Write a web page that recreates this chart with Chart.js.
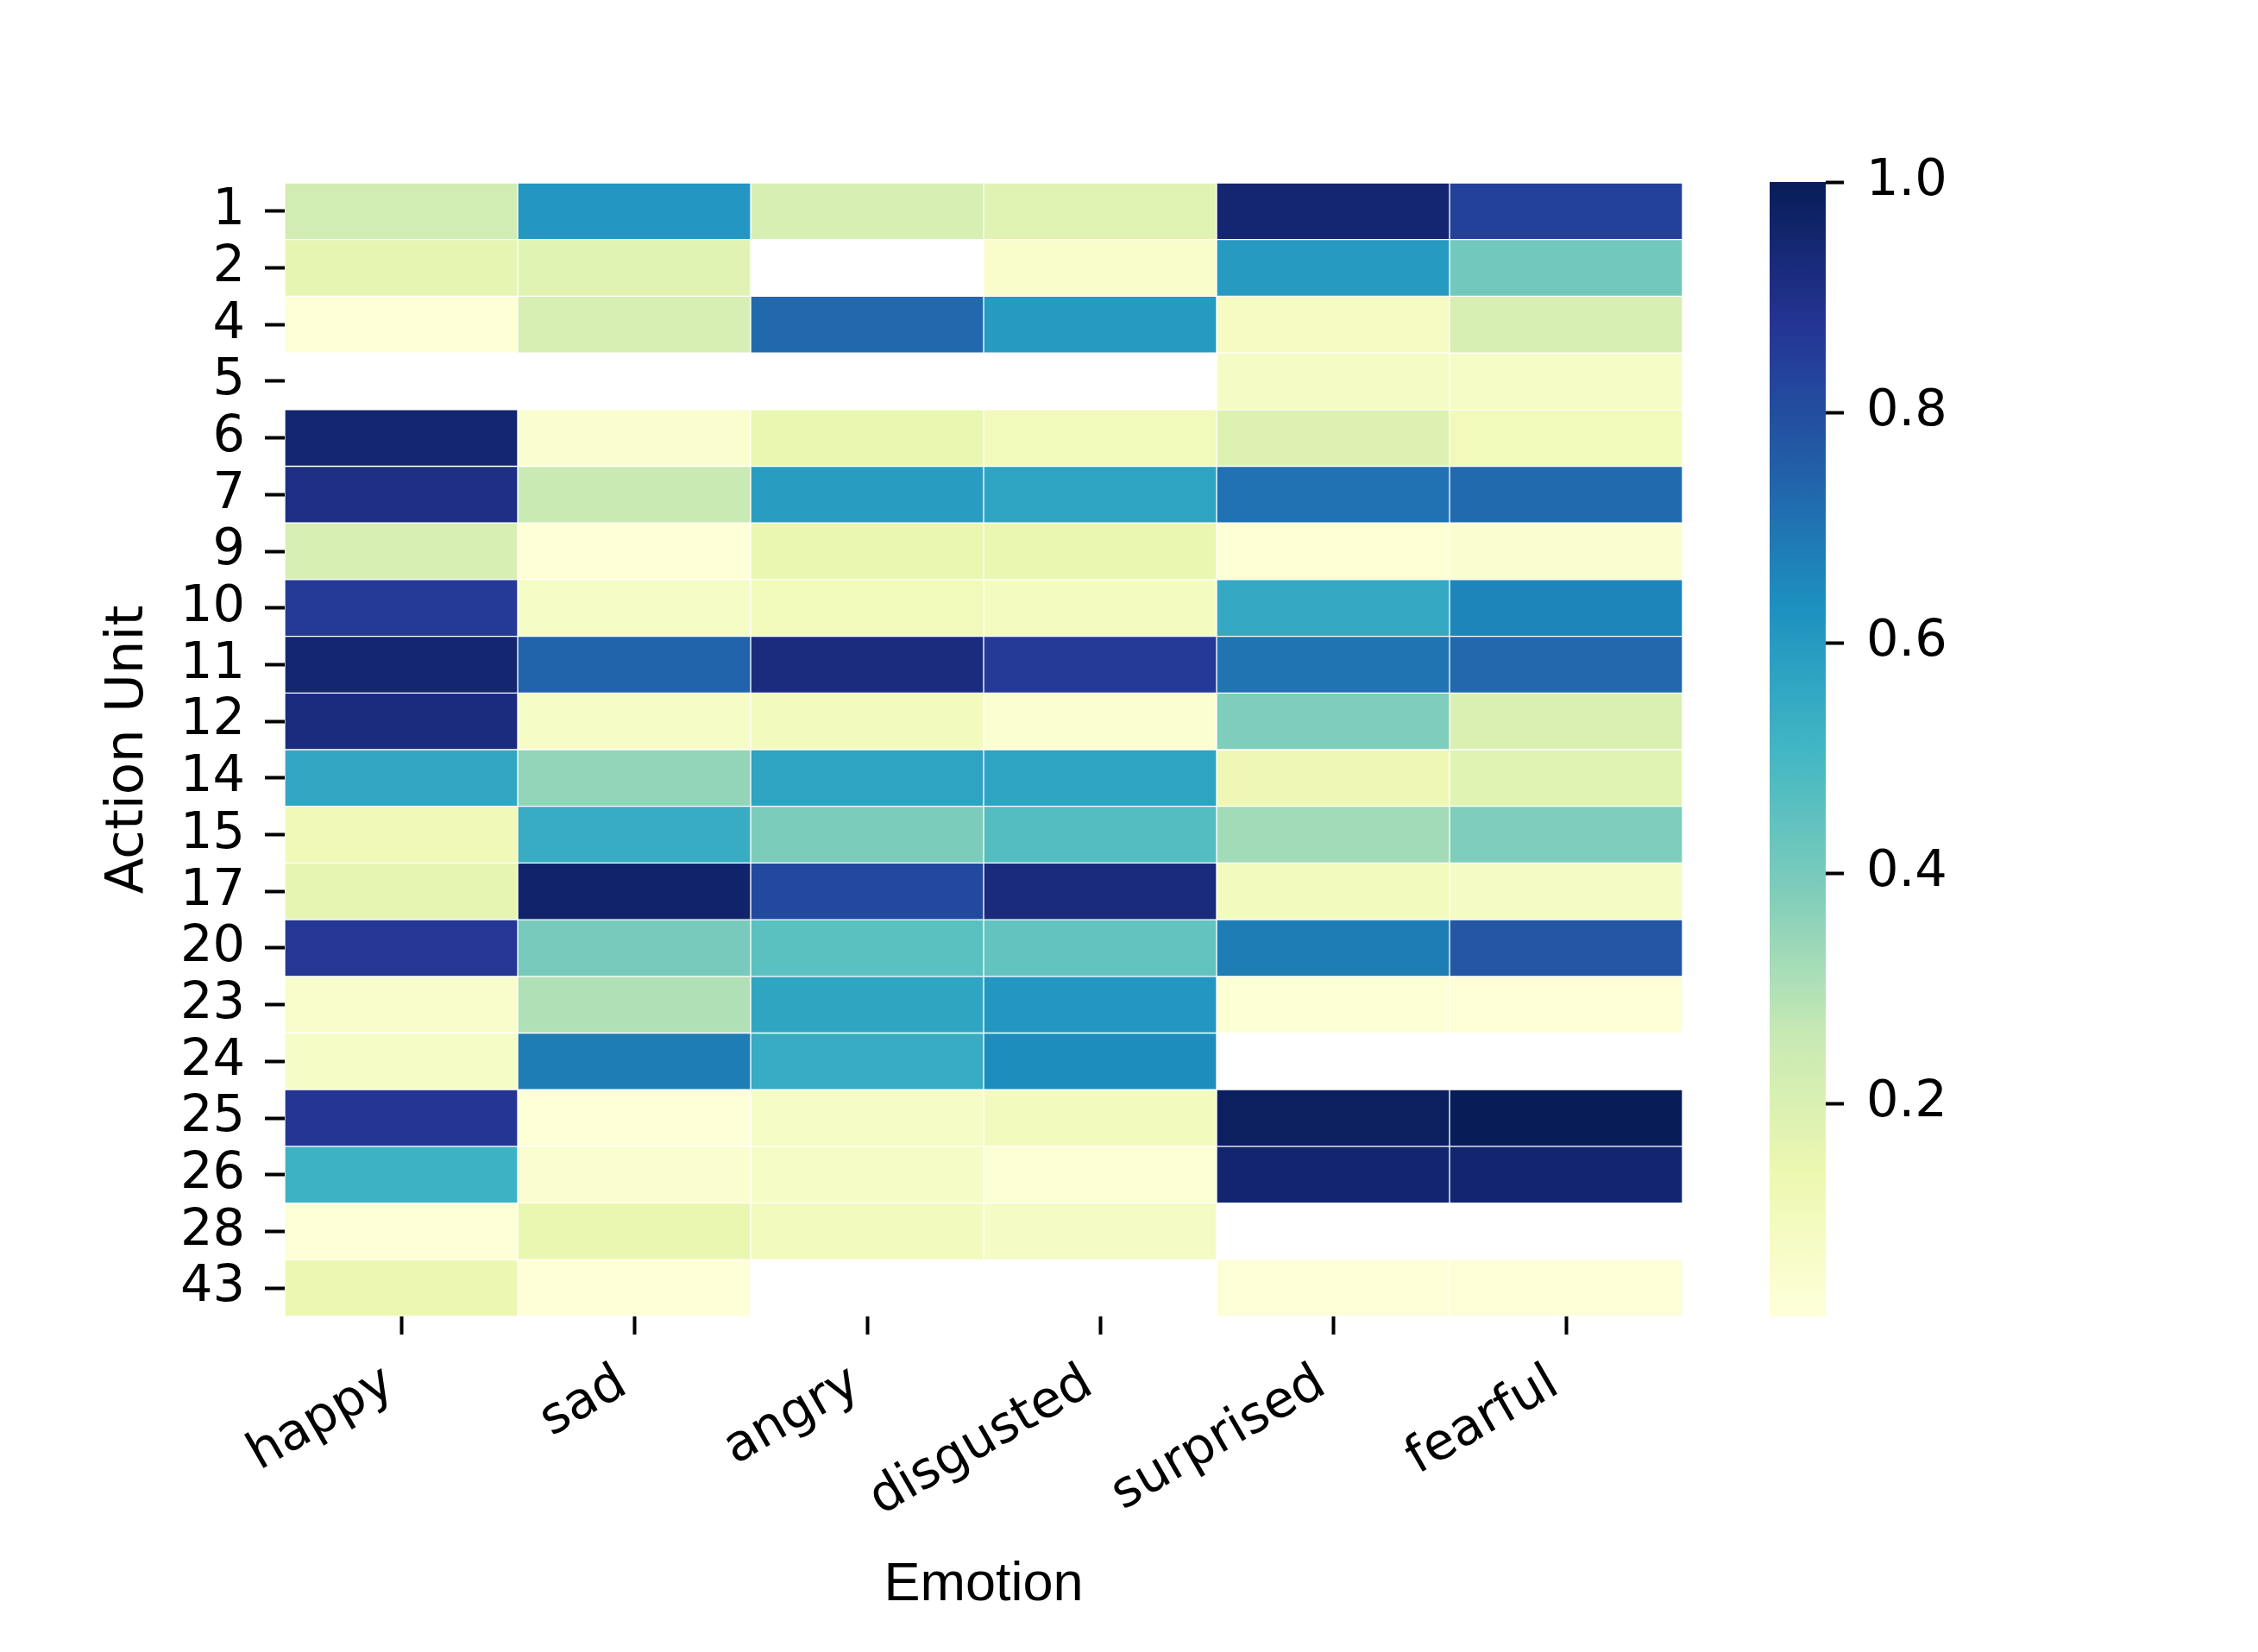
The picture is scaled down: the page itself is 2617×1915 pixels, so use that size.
<!DOCTYPE html>
<html>
<head>
<meta charset="utf-8">
<title>Action Unit x Emotion</title>
<script src="https://cdn.jsdelivr.net/npm/chart.js@4.4.1/dist/chart.umd.min.js"></script>
<style>
  body { margin: 0; background: #fff; }
  #wrap { position: relative; width: 2617px; height: 1915px; }
  #wrap canvas { position: absolute; left: 0; top: 0; }
</style>
</head>
<body>
<div id="wrap">
  <canvas id="heatmap" width="2617" height="1915"></canvas>
  <canvas id="colorbar" width="2617" height="1915"></canvas>
</div>
<script>
// ---------- dados ----------
const emotions = ["happy", "sad", "angry", "disgusted", "surprised", "fearful"];
const actionUnits = ["1", "2", "4", "5", "6", "7", "9", "10", "11", "12",
                     "14", "15", "17", "20", "23", "24", "25", "26", "28", "43"];

// one value per action unit (same order as actionUnits), null = empty cell
const happy     = [0.23, 0.16, 0.02, null, 0.95, 0.91, 0.21, 0.86, 0.95, 0.92, 0.56, 0.12, 0.16, 0.87, 0.055, 0.075, 0.875, 0.52, 0.025, 0.14];
const sad       = [0.61, 0.18, 0.21, null, 0.05, 0.25, 0.02, 0.075, 0.74, 0.075, 0.35, 0.54, 0.96, 0.40, 0.30, 0.68, 0.02, 0.05, 0.15, 0.02];
const angry     = [0.21, null, 0.73, null, 0.15, 0.59, 0.15, 0.11, 0.92, 0.10, 0.57, 0.39, 0.815, 0.455, 0.565, 0.54, 0.075, 0.075, 0.10, null];
const disgusted = [0.18, 0.055, 0.60, null, 0.11, 0.57, 0.15, 0.09, 0.86, 0.04, 0.57, 0.47, 0.925, 0.44, 0.61, 0.64, 0.10, 0.035, 0.08, null];
const surprised = [0.95, 0.60, 0.085, 0.08, 0.19, 0.705, 0.03, 0.55, 0.70, 0.385, 0.13, 0.325, 0.10, 0.68, 0.035, null, 0.985, 0.955, null, 0.025];
const fearful   = [0.84, 0.41, 0.21, 0.075, 0.11, 0.725, 0.05, 0.66, 0.73, 0.20, 0.18, 0.385, 0.08, 0.775, 0.025, null, 1.00, 0.955, null, 0.025];

// colour scale range + colorbar ticks
const cbMin = 0.015;
const cbMax = 1.0;
const cbTicks = [0.2, 0.4, 0.6, 0.8, 1.0];

// YlGnBu
const ylgnbu = ["#ffffd9", "#edf8b1", "#c7e9b4", "#7fcdbb", "#41b6c4",
                "#1d91c0", "#225ea8", "#253494", "#081d58"];

// ---------- auxiliares ----------
function hexToRgb(h) {
  return [parseInt(h.slice(1, 3), 16), parseInt(h.slice(3, 5), 16), parseInt(h.slice(5, 7), 16)];
}

function colorFor(v) {
  let t = (v - cbMin) / (cbMax - cbMin);
  t = Math.max(0, Math.min(1, t));
  const pos = t * (ylgnbu.length - 1);
  const i = Math.min(Math.floor(pos), ylgnbu.length - 2);
  const f = pos - i;
  const a = hexToRgb(ylgnbu[i]), b = hexToRgb(ylgnbu[i + 1]);
  const c = a.map((x, k) => Math.round(x + (b[k] - x) * f));
  return `rgb(${c[0]},${c[1]},${c[2]})`;
}

const tickFont = { family: "'DejaVu Sans', sans-serif", size: 59 };
const columns = [happy, sad, angry, disgusted, surprised, fearful];

// =====================================================
// HEATMAP
// =====================================================
new Chart(document.getElementById("heatmap"), {
  type: "bar",
  data: {
    labels: actionUnits,
    datasets: columns.map((vals, c) => ({
      label: emotions[c],
      data: vals.map(v => (v == null ? null : [c, c + 1])),
      backgroundColor: vals.map(v => (v == null ? "rgba(0,0,0,0)" : colorFor(v))),
      borderColor: "#ffffff",
      borderWidth: 1,
      borderSkipped: false,
      grouped: false,
      barPercentage: 1,
      categoryPercentage: 1
    }))
  },
  options: {
    indexAxis: "y",
    responsive: false,
    animation: false,
    layout: { padding: { left: 0, top: 212, right: 667, bottom: 0 } },
    plugins: { legend: { display: false }, tooltip: { enabled: false } },
    scales: {
      x: {
        type: "linear",
        min: 0,
        max: emotions.length,
        afterBuildTicks: s => { s.ticks = emotions.map((_, i) => ({ value: i + 0.5 })); },
        afterFit: s => { s.height = 389; },
        ticks: {
          autoSkip: false,
          minRotation: 30,
          maxRotation: 30,
          padding: 22,
          labelOffset: -13,
          color: "#000",
          font: tickFont,
          callback: (v, i) => emotions[i]
        },
        grid: { drawOnChartArea: false, drawTicks: true, tickLength: 21, tickWidth: 4, tickColor: "#000" },
        border: { display: false },
        title: {
          display: true,
          text: "Emotion",
          color: "#000",
          font: { family: "'Liberation Sans', Arial, sans-serif", size: 63 },
          padding: { top: 0, bottom: 40 }
        }
      },
      y: {
        type: "category",
        afterFit: s => { s.width = 330; },
        ticks: { autoSkip: false, padding: 23, color: "#000", font: tickFont },
        grid: { offset: false, drawOnChartArea: false, drawTicks: true, tickLength: 23, tickWidth: 4, tickColor: "#000" },
        border: { display: false },
        title: {
          display: true,
          text: "Action Unit",
          color: "#000",
          font: { family: "'DejaVu Sans', sans-serif", size: 61 },
          padding: { top: 113, bottom: 0 }
        }
      }
    }
  }
});

// =====================================================
// COLORBAR
// =====================================================
new Chart(document.getElementById("colorbar"), {
  type: "bar",
  data: {
    labels: [""],
    datasets: [{
      data: [[cbMin, cbMax]],
      backgroundColor: ctx => {
        const chart = ctx.chart;
        if (!chart.chartArea) return null;
        const y = chart.scales.y;
        const g = chart.ctx.createLinearGradient(0, y.getPixelForValue(cbMin), 0, y.getPixelForValue(cbMax));
        ylgnbu.forEach((c, i) => g.addColorStop(i / (ylgnbu.length - 1), c));
        return g;
      },
      borderWidth: 0,
      barPercentage: 1,
      categoryPercentage: 1
    }]
  },
  options: {
    responsive: false,
    animation: false,
    layout: { padding: { left: 2051, top: 211, right: 0, bottom: 389 } },
    plugins: { legend: { display: false }, tooltip: { enabled: false } },
    scales: {
      x: { display: false },
      y: {
        position: "right",
        min: cbMin,
        max: cbMax,
        afterBuildTicks: s => { s.ticks = cbTicks.map(v => ({ value: v })); },
        afterFit: s => { s.width = 501; },
        ticks: { padding: 26, color: "#000", font: tickFont, callback: v => v.toFixed(1) },
        grid: { drawOnChartArea: false, drawTicks: true, tickLength: 21, tickWidth: 4, tickColor: "#000" },
        border: { display: false }
      }
    }
  }
});
</script>
</body>
</html>
